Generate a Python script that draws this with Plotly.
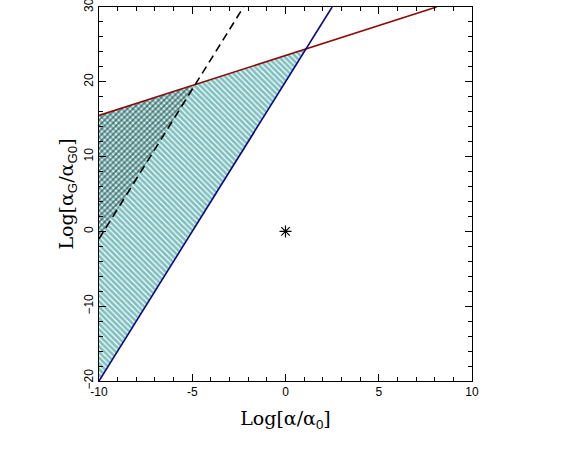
import numpy as np
import plotly.graph_objects as go

# line end points (x = Log[a/a0], y = Log[aG/aG0])
red_x = [-10.0, 8.1]
red_y = [15.5, 30.0]
blue_x = [-10.0, 2.5]
blue_y = [-20.0, 30.0]
dash_x = [-10.0, -2.25]
dash_y = [-1.0, 30.0]
star_x = [0.0]
star_y = [0.0]

x_ticks = [-10, -5, 0, 5, 10]
x_labels = ["-10", "-5", "0", "5", "10"]
y_ticks = [-20, -10, 0, 10, 20, 30]
y_labels = ["\u221220", "\u221210", "0", "10", "20", "30"]


def line_coef(xs, ys):
    m = (ys[1] - ys[0]) / (xs[1] - xs[0])
    return m, ys[0] - m * xs[0]


def crossing(a, b):
    m1, c1 = a
    m2, c2 = b
    x = (c2 - c1) / (m1 - m2)
    return x, m1 * x + c1


red = line_coef(red_x, red_y)
blue = line_coef(blue_x, blue_y)
dash = line_coef(dash_x, dash_y)

xb, yb = crossing(red, blue)
xd, yd = crossing(red, dash)

# region between the blue and red lines
hatch_x = [blue_x[0], xb, red_x[0], blue_x[0]]
hatch_y = [blue_y[0], yb, red_y[0], blue_y[0]]
# region between the dashed and red lines
cross_x = [dash_x[0], xd, red_x[0], dash_x[0]]
cross_y = [dash_y[0], yd, red_y[0], dash_y[0]]

fig = go.Figure()

fig.add_trace(go.Scatter(
    x=hatch_x, y=hatch_y, fill="toself", mode="none",
    fillcolor="rgba(0,0,0,0)",
    fillpattern=dict(shape="\\", fgcolor="#008080", bgcolor="rgba(0,0,0,0)",
                     size=4, solidity=0.7),
    hoverinfo="skip", showlegend=False))
fig.add_trace(go.Scatter(
    x=cross_x, y=cross_y, fill="toself", mode="none",
    fillcolor="rgba(0,0,0,0)",
    fillpattern=dict(shape="/", fgcolor="#0a1a1a", bgcolor="rgba(0,0,0,0)",
                     size=4, solidity=0.4),
    hoverinfo="skip", showlegend=False))

fig.add_trace(go.Scatter(x=red_x, y=red_y, mode="lines",
                         line=dict(color="#8b0a0a", width=1.6), showlegend=False))
fig.add_trace(go.Scatter(x=blue_x, y=blue_y, mode="lines",
                         line=dict(color="#0a0a80", width=1.6), showlegend=False))
fig.add_trace(go.Scatter(x=dash_x, y=dash_y, mode="lines",
                         line=dict(color="black", width=1.6, dash="8px,5px"),
                         showlegend=False))
fig.add_trace(go.Scatter(x=star_x, y=star_y, mode="markers",
                         marker=dict(symbol="asterisk-open", size=10, color="black",
                                     line=dict(color="black", width=1.2)),
                         showlegend=False))

axis_common = dict(
    showline=True, linecolor="black", linewidth=1, mirror="allticks",
    ticks="inside", ticklen=7, tickcolor="black", showgrid=False, zeroline=False,
    ticklabeloverflow="allow",
    tickfont=dict(family="Liberation Sans, Arial, sans-serif", size=12, color="black"),
)

sub = '<sub><span style="font-family:Liberation Sans, Arial, sans-serif">{}</span></sub>'

fig.update_xaxes(
    range=[-10, 10.0001], tickvals=x_ticks, ticktext=x_labels,
    minor=dict(ticks="inside", ticklen=4, dtick=1, tickcolor="black", showgrid=False),
    title=dict(text="Log[\u03b1/\u03b1" + sub.format("0") + "]",
               font=dict(family="DejaVu Serif, serif", size=19, color="black"),
               standoff=13),
    **axis_common)
fig.update_yaxes(
    range=[-20, 30.0001], tickvals=y_ticks, ticktext=y_labels, tickangle=-90,
    minor=dict(ticks="inside", ticklen=4, dtick=2, tickcolor="black", showgrid=False),
    title=dict(text="Log[\u03b1" + sub.format("G") + "/\u03b1" + sub.format("G0") + "]",
               font=dict(family="DejaVu Serif, serif", size=19, color="black"),
               standoff=3),
    **axis_common)

fig.update_layout(
    width=568, height=458,
    margin=dict(l=99, r=96, t=7, b=77, autoexpand=False),
    paper_bgcolor="white", plot_bgcolor="white",
)

fig.write_html("out.html", config={"displayModeBar": False},
               post_script="document.body.style.margin='0px';")
